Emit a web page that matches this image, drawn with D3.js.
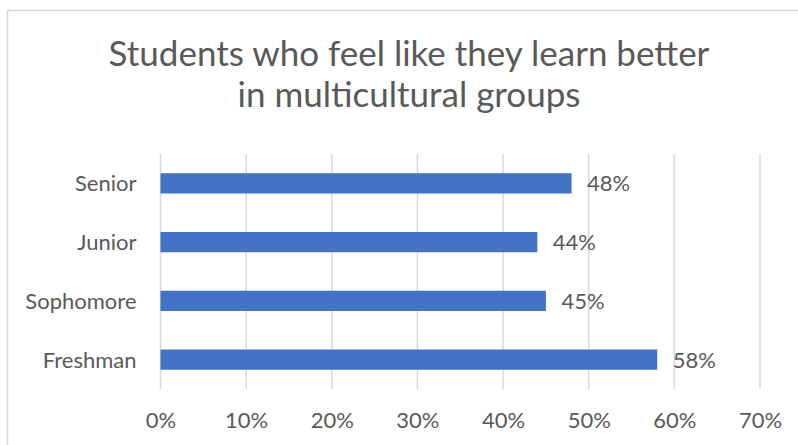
<!DOCTYPE html>
<html>
<head>
<meta charset="utf-8">
<script src="https://cdn.jsdelivr.net/npm/d3@7"></script>
<style>
  html, body { margin: 0; padding: 0; background: #fff; }
  svg { display: block; }
  text { font-family: Lato, "Liberation Sans", sans-serif; fill: #595959; }
</style>
</head>
<body>
<svg id="chart"></svg>
<script>
// chart data
const categories = ["Freshman", "Sophomore", "Junior", "Senior"];
const values = [0.58, 0.45, 0.44, 0.48];
const xTicks = [0, 0.1, 0.2, 0.3, 0.4, 0.5, 0.6, 0.7];
const titleLines = ["Students who feel like they learn better", "in multicultural groups"];

const width = 798,
    height = 445,
    margin = { top: 154, right: 38, bottom: 56, left: 160.5 },
    plotW = width - margin.left - margin.right,
    plotH = height - margin.top - margin.bottom;

const svg = d3.select("#chart")
    .attr("width", width)
    .attr("height", height);

// outer chart border (runs off the right/bottom edge)
svg.append("rect")
    .attr("x", 7.5)
    .attr("y", 10.5)
    .attr("width", width + 10)
    .attr("height", height + 10)
    .attr("fill", "#fff")
    .attr("stroke", "#d9d9d9")
    .attr("stroke-width", 1.5);

const title = svg.append("text")
    .attr("x", 409)
    .attr("y", 66)
    .attr("text-anchor", "middle")
    .style("font-size", "35px");
titleLines.forEach((t, i) => {
    title.append("tspan")
        .attr("x", 409)
        .attr("dy", i === 0 ? 0 : 41)
        .text(t);
});

const x = d3.scaleLinear()
    .domain([0, 0.7])
    .range([0, plotW]);

const y = d3.scaleBand()
    .domain(categories.slice().reverse())
    .range([0, plotH])
    .paddingInner(0.655)
    .paddingOuter(0.3275);

const g = svg.append("g")
    .attr("transform", "translate(" + margin.left + "," + margin.top + ")");

// vertical gridlines
g.append("g")
    .attr("class", "grid")
    .selectAll("line")
    .data(xTicks)
    .enter()
    .append("line")
    .attr("x1", d => x(d))
    .attr("x2", d => x(d))
    .attr("y1", 0)
    .attr("y2", plotH)
    .attr("stroke", "#d9d9d9")
    .attr("stroke-width", 1.5);

const rows = categories.map((c, i) => ({ cat: c, val: values[i] }));

g.append("g")
    .attr("class", "bars")
    .selectAll("rect")
    .data(rows)
    .enter()
    .append("rect")
    .attr("x", 0)
    .attr("y", d => y(d.cat))
    .attr("width", d => x(d.val))
    .attr("height", y.bandwidth())
    .attr("fill", "#4472c4");

g.append("g")
    .attr("class", "labels")
    .selectAll("text")
    .data(rows)
    .enter()
    .append("text")
    .attr("x", d => x(d.val) + 15.5)
    .attr("y", d => y(d.cat) + y.bandwidth() / 2 + 8)
    .style("font-size", "22px")
    .text(d => d3.format(".0%")(d.val));

// y axis (category names)
const yAxis = g.append("g")
    .call(d3.axisLeft(y).tickSize(0).tickPadding(24));
yAxis.select(".domain").remove();
yAxis.selectAll("text")
    .attr("dy", null)
    .attr("y", 8)
    .style("font-size", "22px")
    .style("font-family", null)
    .attr("fill", null);

// x axis (percent ticks)
const xAxis = g.append("g")
    .attr("transform", "translate(0," + plotH + ")")
    .call(d3.axisBottom(x).tickValues(xTicks).tickFormat(d3.format(".0%")).tickSize(0).tickPadding(0));
xAxis.select(".domain").remove();
xAxis.selectAll("text")
    .attr("dy", null)
    .attr("y", 39)
    .style("font-size", "22px")
    .style("font-family", null)
    .attr("fill", null);
</script>
</body>
</html>
